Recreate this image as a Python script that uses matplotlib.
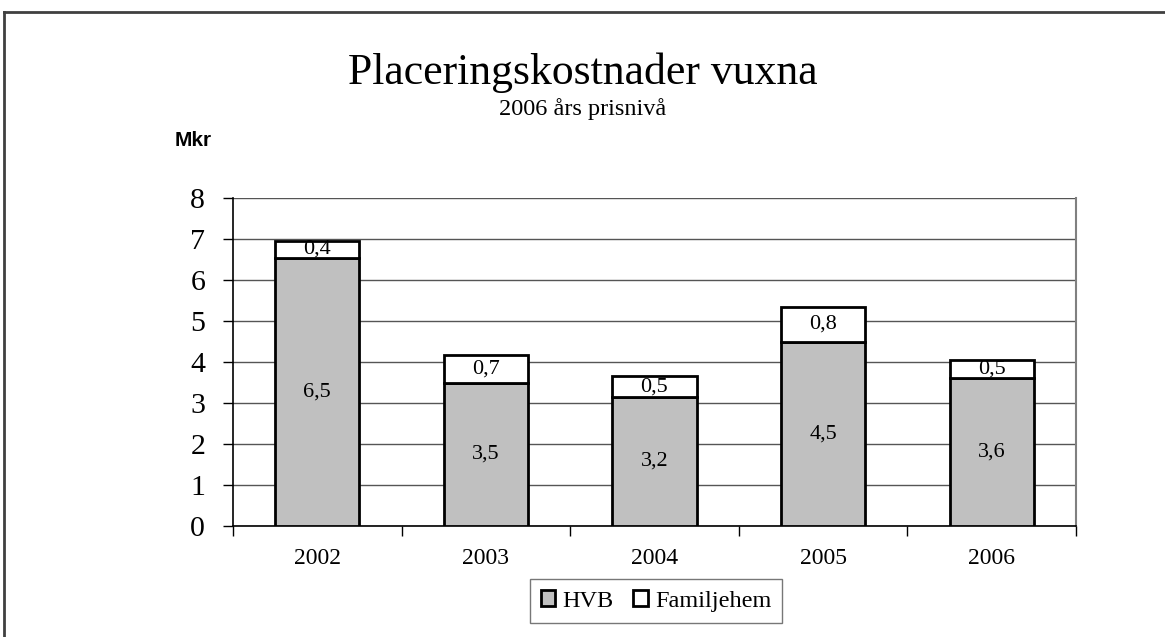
import matplotlib.pyplot as plt
import numpy as np
from matplotlib.lines import Line2D

years = ['2002', '2003', '2004', '2005', '2006']
hvb = [6.55, 3.5, 3.15, 4.5, 3.6]
familjehem = [0.4, 0.68, 0.5, 0.84, 0.45]
hvb_labels = ['6,5', '3,5', '3,2', '4,5', '3,6']
fam_labels = ['0,4', '0,7', '0,5', '0,8', '0,5']

plt.rcParams['font.family'] = ['Liberation Serif', 'DejaVu Serif']

fig = plt.figure(figsize=(11.65, 6.37), dpi=100)
ax = fig.add_axes([0.2, 0.1743, 0.7236, 0.5147])

x = np.arange(len(years))
b1 = ax.bar(x, hvb, width=0.5, color='#c0c0c0', edgecolor='black', linewidth=2, label='HVB', zorder=3)
b2 = ax.bar(x, familjehem, width=0.5, bottom=hvb, color='white', edgecolor='black', linewidth=2,
            label='Familjehem', zorder=3)

for i in range(len(years)):
    ax.text(x[i], hvb[i] / 2, hvb_labels[i], ha='center', va='center', fontsize=16, zorder=4)
    ax.text(x[i], hvb[i] + familjehem[i] / 2, fam_labels[i], ha='center', va='center', fontsize=16, zorder=4)

ax.set_xlim(-0.5, len(years) - 0.5)
ax.set_ylim(0, 8)
ax.set_yticks(range(0, 9))
ax.tick_params(axis='y', labelsize=21.5, length=7, width=1, direction='out', pad=13)
ax.yaxis.grid(True, color='#555555', linewidth=1, zorder=0)
ax.set_xticks(x)
ax.set_xticklabels(years)
ax.tick_params(axis='x', which='major', length=0, labelsize=17, pad=16)
ax.set_xticks(np.arange(-0.5, len(years)), minor=True)
ax.tick_params(axis='x', which='minor', length=7, width=1, direction='out')

ax.spines['top'].set_visible(False)
ax.spines['right'].set_color('#808080')
ax.spines['right'].set_linewidth(1.5)
ax.spines['left'].set_linewidth(1.2)
ax.spines['bottom'].set_linewidth(1.2)

fig.text(0.5, 0.886, 'Placeringskostnader vuxna', ha='center', va='center', fontsize=31.5)
fig.text(0.5, 0.829, '2006 års prisnivå', ha='center', va='center', fontsize=17.5)
fig.text(0.166, 0.78, 'Mkr', ha='center', va='center', fontsize=15, fontweight='bold',
         family='Liberation Sans')

leg = fig.legend(handles=[b1, b2], loc='center', ncol=2,
                 fontsize=17.5, frameon=True, fancybox=False, edgecolor='#555555',
                 handlelength=0.6, handleheight=0.6, handletextpad=0.3, columnspacing=0.8,
                 borderpad=0.45)
leg.set_bbox_to_anchor((0.563, 1 - 601 / 637), transform=fig.transFigure)
leg.get_frame().set_linewidth(1)

# outer chart frame (only left and top visible)
fig.add_artist(Line2D([4 / 1165, 4 / 1165], [0, 1 - 12 / 637], transform=fig.transFigure,
                      color='#404040', linewidth=2))
fig.add_artist(Line2D([4 / 1165, 1], [1 - 12 / 637, 1 - 12 / 637], transform=fig.transFigure,
                      color='#404040', linewidth=2))

fig.savefig('out.png', dpi=100)
